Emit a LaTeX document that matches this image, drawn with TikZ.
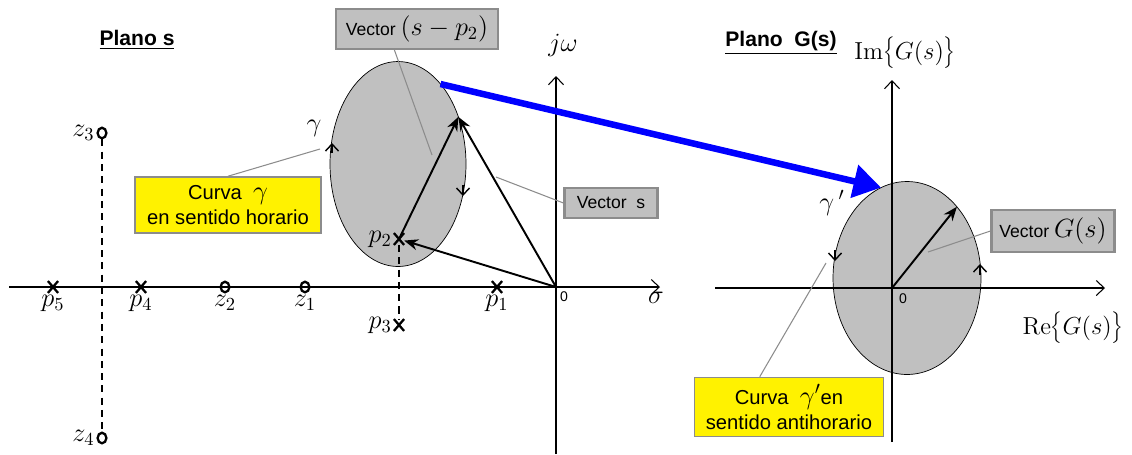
\documentclass[tikz,border=0pt]{standalone}
\usepackage{fix-cm}
\usepackage[no-math]{fontspec}
\setmainfont{Liberation Sans}
\usepackage{xcolor}
\usepackage{tikz}
\usetikzlibrary{shapes.geometric,shapes.misc,arrows.meta}
\definecolor{boxgray}{HTML}{C0C0C0}
\definecolor{edgegray}{HTML}{8C8C8C}

\begin{document}
\begin{tikzpicture}[x=0.02cm,y=-0.02cm]
      \tikzstyle{plane} = [ellipse, draw=black, fill=boxgray, inner sep=0pt, outer sep=0pt]
      \tikzstyle{pole} = [cross out, draw=black, line width=1.3pt, minimum width=4.5pt, minimum height=5.5pt, inner sep=0pt]
      \tikzstyle{zero} = [ellipse, draw=black, line width=1.3pt, minimum width=5pt, minimum height=6pt, inner sep=0pt]
      \tikzstyle{lbl} = [font=\fontsize{15}{17}\selectfont, inner sep=1pt]
      \tikzstyle{tag} = [rectangle, draw=edgegray, line width=1.2pt, fill=boxgray, font=\fontsize{10}{12}\selectfont, inner sep=2pt]
      \tikzstyle{note} = [rectangle, draw=edgegray, line width=0.9pt, fill=yellow, align=center, font=\fontsize{11.5}{14}\selectfont, inner sep=2pt]
      \tikzstyle{axis} = [line width=0.6pt, -{Straight Barb[length=1.6mm,width=3mm]}]
      \tikzstyle{vec} = [line width=1.1pt, -{Stealth[length=2.8mm,width=2.2mm]}]
      \tikzstyle{sense} = [line width=0.8pt, -{Straight Barb[length=1.4mm,width=2.6mm]}]
      \tikzstyle{leader} = [draw=edgegray, line width=0.6pt]
      \tikzstyle{title} = [font=\bfseries\fontsize{12}{14}\selectfont]
      \tikzstyle{bigarrow} = [draw=blue, line width=1.3mm, -{Triangle[length=5.5mm,width=6.5mm]}]

      \useasboundingbox (0,0) rectangle (1132,454);

      \node (sell) [plane, minimum width=2.72cm, minimum height=4.1cm] at (398,164) {};
      \node (gell) [plane, minimum width=2.96cm, minimum height=3.86cm] at (907,278) {};

      \coordinate (sre0) at (9,287);
      \coordinate (sre1) at (660,287);
      \coordinate (O) at (556,287);
      \coordinate (sim0) at (556,454);
      \coordinate (sim1) at (556,76);
      \draw [axis] (sre0) -- (sre1);
      \draw [axis] (sim0) -- (sim1);

      \coordinate (gre0) at (715,288);
      \coordinate (gre1) at (1105,288);
      \coordinate (OG) at (892,288);
      \coordinate (gim0) at (892,442);
      \coordinate (gim1) at (892,80);
      \draw [axis] (gre0) -- (gre1);
      \draw [axis] (gim0) -- (gim1);

      \node (ps) [title] at (137,40) {\underline{Plano s}};
      \node (pg) [title] at (781,43) {\underline{Plano\ \ G(s)}};
      \node (jw) [lbl] at (563,45) {$j\omega$};
      \node (sig) [lbl] at (656,298) {$\sigma$};
      \node (o1) [font=\fontsize{8}{9}\selectfont] at (564,297) {0};
      \node (o2) [font=\fontsize{8}{9}\selectfont] at (903,299) {0};
      \node (im) [font=\fontsize{14}{16}\selectfont] at (905,53) {$\mathrm{Im}\Bigl\{G(s)\Bigr\}$};
      \node (re) [font=\fontsize{14}{16}\selectfont] at (1073,328) {$\mathrm{Re}\Bigl\{G(s)\Bigr\}$};

      \node (p5) [pole, label={[lbl]below:$p_5$}] at (53,287) {};
      \node (p4) [pole, label={[lbl]below:$p_4$}] at (141,287) {};
      \node (z2) [zero, label={[lbl]below:$z_2$}] at (225,287) {};
      \node (z1) [zero, label={[lbl]below:$z_1$}] at (305,287) {};
      \node (p1) [pole, label={[lbl]below:$p_1$}] at (497,287) {};
      \node (p2) [pole, label={[lbl]left:$p_2$}] at (399,239) {};
      \node (p3) [pole, label={[lbl]left:$p_3$}] at (399,325) {};
      \node (z3) [zero, label={[lbl]left:$z_3$}] at (102,133) {};
      \node (z4) [zero, label={[lbl]left:$z_4$}] at (102,438) {};

      \draw [dashed, dash pattern=on 4pt off 3pt, line width=0.6pt] (z3) -- (z4);
      \draw [dashed, dash pattern=on 4pt off 3pt, line width=0.6pt] (p2) -- (p3);

      \draw [vec] (O) -- (p2);
      \draw [vec] (p2.center) -- (sell.38);
      \draw [vec] (O) -- (sell.38);
      \draw [vec] (OG) -- (gell.55);

      \draw [sense] (332,153) -- (332,143);
      \draw [sense] (463,185) -- (463,196);
      \draw [sense] (835,250) -- (835,261);
      \draw [sense] (980,275) -- (980,264);
      \node (gam) [lbl] at (314,128) {$\gamma$};
      \node (gamg) [lbl] at (832,203) {$\gamma\,'$};

      \draw [bigarrow] (sell.62) -- (gell.106);

      \node (vsp) [tag, minimum width=3.24cm, minimum height=0.8cm] at (417,29) {Vector {\fontsize{15}{17}\selectfont$(s-p_2)$}};
      \node (vs) [tag, minimum width=1.86cm, minimum height=0.6cm] at (611,203) {Vector\ \ s};
      \node (vg) [tag, minimum width=2.46cm, minimum height=0.84cm] at (1053,231) {Vector {\fontsize{15}{17}\selectfont$G(s)$}};
      \node (y1) [note, minimum width=3.72cm, minimum height=1.12cm] at (228,205) {Curva\ \ {\fontsize{15}{17}\selectfont$\gamma$}\\en sentido horario};
      \node (y2) [note, minimum width=3.78cm, minimum height=1.18cm] at (789,407) {Curva\ \ {\fontsize{15}{17}\selectfont$\gamma'$}en\\sentido antihorario};

      \coordinate (l1) at (432,155);
      \coordinate (l2) at (496,177);
      \coordinate (l3) at (928,252);
      \coordinate (l4) at (320,149);
      \coordinate (l5) at (826,263);
      \draw [leader] (vsp.-137) -- (l1);
      \draw [leader] (l2) -- (vs.west);
      \draw [leader] (vg.west) -- (l3);
      \draw [leader] (y1.north) -- (l4);
      \draw [leader] (y2.134) -- (l5);
\end{tikzpicture}
\end{document}
